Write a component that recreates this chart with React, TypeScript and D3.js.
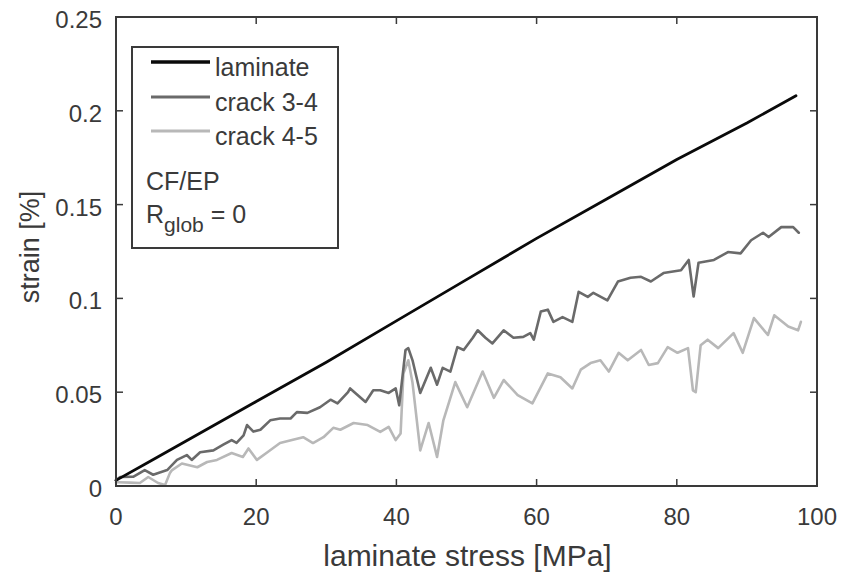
import React from "react";
import * as d3 from "d3";

const xTicks = [0, 20, 40, 60, 80, 100];
const yTicks = [0, 0.05, 0.1, 0.15, 0.2, 0.25];
const yTickLabels = ["0", "0.05", "0.1", "0.15", "0.2", "0.25"];
const seriesNames = ["laminate", "crack 3-4", "crack 4-5"];
const seriesColors = ["#0a0a0a", "#6a6a6a", "#b8b8b8"];

const laminateX = [0, 5, 10, 20, 30, 40, 50, 60, 70, 80, 90, 97];
const laminateY = [0.003, 0.0135, 0.024, 0.045, 0.066, 0.088, 0.110, 0.132, 0.153, 0.174, 0.1935, 0.208];

const crack34X = [0, 0.6, 2.5, 4.1, 5.3, 7.3, 8.7, 10.1, 10.8, 12, 13.9, 15.3, 16.5, 17.2, 18.2, 18.7, 19.6, 20.6, 22, 23.4, 24.9, 25.8, 27.3, 29.1, 30.6, 31.6, 33.1, 33.4, 35.6, 36.7, 37.7, 38.9, 39.9, 40.4, 41.3, 41.7, 42.3, 43.4, 44.9, 45.8, 46.6, 47.7, 48.7, 49.6, 50.9, 51.6, 52.7, 53.7, 55.3, 56.7, 58.1, 59.1, 59.6, 60.6, 61.6, 62.4, 63.7, 65.1, 66, 67.3, 68.1, 70.1, 71.6, 73.4, 74.9, 76.3, 78.1, 80.6, 81.7, 82.4, 83.1, 85.3, 87.3, 89.1, 90.6, 92.3, 93.1, 94.9, 96.6, 97.4];
const crack34Y = [0.003, 0.0048, 0.005, 0.0085, 0.006, 0.0085, 0.0139, 0.0165, 0.0139, 0.018, 0.019, 0.022, 0.0245, 0.023, 0.027, 0.0325, 0.029, 0.030, 0.035, 0.036, 0.036, 0.0394, 0.039, 0.042, 0.046, 0.044, 0.050, 0.052, 0.0448, 0.051, 0.051, 0.0496, 0.052, 0.043, 0.0725, 0.0735, 0.067, 0.0496, 0.063, 0.054, 0.063, 0.061, 0.074, 0.0725, 0.079, 0.083, 0.079, 0.076, 0.083, 0.079, 0.0795, 0.0815, 0.078, 0.093, 0.094, 0.0875, 0.090, 0.0875, 0.1035, 0.1008, 0.103, 0.099, 0.109, 0.111, 0.1115, 0.109, 0.1135, 0.115, 0.1205, 0.101, 0.119, 0.1205, 0.1247, 0.124, 0.131, 0.135, 0.1327, 0.138, 0.138, 0.135];

const crack45X = [0, 0.3, 2, 3.4, 4.6, 6, 7, 7.7, 8, 9.4, 11.6, 13, 14.4, 16.5, 18.1, 18.9, 20.1, 21.6, 23.4, 25.1, 26.7, 28.1, 29.6, 31, 32, 33.9, 35.9, 37.7, 38.9, 39.9, 40.6, 41, 41.7, 42.3, 43.4, 44.6, 45.8, 46.7, 48.4, 50.1, 52.3, 53.9, 55.3, 57.3, 59.4, 61.6, 63.4, 65.1, 66.3, 67.7, 69.1, 70.3, 71.7, 73, 74.9, 76, 77.3, 78.7, 80.1, 81.6, 82.3, 82.7, 83.4, 84.4, 85.9, 88.1, 89.4, 91, 93, 93.9, 95.9, 97.3, 97.7];
const crack45Y = [0.002, 0.002, 0.0018, 0.0016, 0.0048, 0.0016, 0.0005, 0.007, 0.0085, 0.012, 0.010, 0.0128, 0.0139, 0.0176, 0.0155, 0.020, 0.0139, 0.018, 0.0229, 0.0245, 0.026, 0.0229, 0.026, 0.031, 0.030, 0.0336, 0.0325, 0.0288, 0.0315, 0.0245, 0.028, 0.060, 0.067, 0.055, 0.019, 0.0336, 0.0155, 0.035, 0.0554, 0.042, 0.061, 0.047, 0.0565, 0.0485, 0.044, 0.060, 0.058, 0.052, 0.062, 0.0655, 0.067, 0.061, 0.071, 0.067, 0.0725, 0.0645, 0.0655, 0.074, 0.071, 0.0735, 0.051, 0.050, 0.075, 0.078, 0.0735, 0.0815, 0.071, 0.0895, 0.0805, 0.091, 0.085, 0.083, 0.0875];

const FONT = "'Liberation Sans', Arial, Helvetica, sans-serif";

export default function App() {
  const left = 116, right = 817, top = 17, bottom = 486;
  const x = d3.scaleLinear().domain([0, 100]).range([left, right]);
  const y = d3.scaleLinear().domain([0, 0.25]).range([bottom, top]);
  const line = d3.line<[number, number]>().x(d => x(d[0])).y(d => y(d[1]));
  const series = [
    laminateX.map((v, i) => [v, laminateY[i]] as [number, number]),
    crack34X.map((v, i) => [v, crack34Y[i]] as [number, number]),
    crack45X.map((v, i) => [v, crack45Y[i]] as [number, number]),
  ];
  const widths = [2.8, 2.6, 2.6];
  const axisColor = "#3a3a3a";
  const textColor = "#3a3a3a";
  const tickLen = 7;
  const legendYs = [62, 97, 131];
  return (
    <svg width={843} height={575} style={{ position: "absolute", left: 0, top: 0, background: "#fff" }} fontFamily={FONT}>
      <rect x={0} y={0} width={843} height={575} fill="#fff" />
      <g fill="none" strokeLinejoin="round" strokeLinecap="round">
        {[2, 1, 0].map(i => (
          <path key={i} d={line(series[i]) || ""} stroke={seriesColors[i]} strokeWidth={widths[i]} />
        ))}
      </g>
      <rect x={left} y={top} width={right - left} height={bottom - top} fill="none" stroke={axisColor} strokeWidth={2} />
      {xTicks.map(t => (
        <g key={"x" + t}>
          <line x1={x(t)} x2={x(t)} y1={bottom} y2={bottom - tickLen} stroke={axisColor} strokeWidth={1.5} />
          <line x1={x(t)} x2={x(t)} y1={top} y2={top + tickLen} stroke={axisColor} strokeWidth={1.5} />
          <text x={x(t)} y={525} textAnchor="middle" fontSize={24} fill={textColor}>{t}</text>
        </g>
      ))}
      {yTicks.map((t, i) => (
        <g key={"y" + t}>
          <line x1={left} x2={left + tickLen} y1={y(t)} y2={y(t)} stroke={axisColor} strokeWidth={1.5} />
          <line x1={right} x2={right - tickLen} y1={y(t)} y2={y(t)} stroke={axisColor} strokeWidth={1.5} />
          <text x={102} y={y(t) + 11} textAnchor="end" fontSize={24} fill={textColor}>{yTickLabels[i]}</text>
        </g>
      ))}
      <text x={(left + right) / 2 + 1} y={566} textAnchor="middle" fontSize={30} fill={textColor}>laminate stress [MPa]</text>
      <text transform={`translate(39,247) rotate(-90)`} textAnchor="middle" fontSize={27} fill={textColor}>strain [%]</text>
      <rect x={132} y={47} width={206} height={201} fill="#fff" stroke={axisColor} strokeWidth={2} />
      {seriesNames.map((n, i) => (
        <g key={n}>
          <line x1={151} x2={210} y1={legendYs[i]} y2={legendYs[i]} stroke={seriesColors[i]} strokeWidth={widths[i] + 0.6} />
          <text x={215} y={legendYs[i] + 14} fontSize={25} fill={textColor}>{n}</text>
        </g>
      ))}
      <text x={146} y={190} fontSize={25} fill={textColor}>CF/EP</text>
      <text x={146} y={223} fontSize={25} fill={textColor}>
        R<tspan fontSize={21} dy={9}>glob</tspan><tspan fontSize={25} dy={-9}> = 0</tspan>
      </text>
    </svg>
  );
}
